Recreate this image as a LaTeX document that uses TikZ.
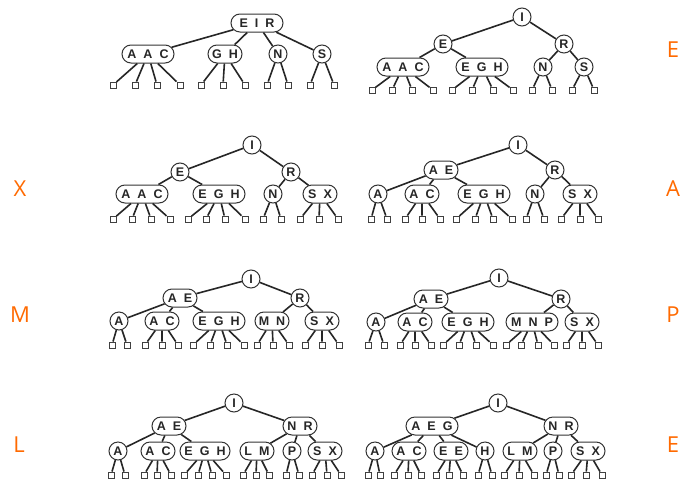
\documentclass[tikz,border=0pt]{standalone}
\usepackage{fontspec}
\setsansfont{Liberation Sans}
\newfontfamily\markfont{Open Sans}
\usepackage{tikz}
\usetikzlibrary{shapes.misc}
\usepackage{xcolor}
\definecolor{mark}{HTML}{FF6A00}

\newcommand\ks{\hskip 7pt}
% leaves under one node: name, y, list of x
\newcommand\leafrow[3]{%
  \foreach \lx [count=\li] in {#3} {%
    \node[leaf] (#1-\li) at (\lx,#2) {};
    \draw[link] (#1) -- (#1-\li);
  }}

\begin{document}
\begin{tikzpicture}[x=1pt,y=-1pt,
  key/.style={draw=black!80, line width=1pt, fill=white, rounded rectangle,
    minimum height=18, inner sep=2pt, text=black!85,
    font=\fontsize{12.5}{12.5}\selectfont\sffamily\bfseries},
  k1/.style={key, minimum width=19},
  k2/.style={key, minimum width=38},
  k3/.style={key, minimum width=56},
  leaf/.style={draw=black!75, line width=0.9pt, rectangle, minimum size=6, inner sep=0pt},
  link/.style={draw=black!85, line width=1.6pt},
  lbl/.style={text=mark, font=\fontsize{22}{22}\selectfont\markfont}]
\useasboundingbox[fill=white] (0,0) rectangle (684,479);

% tree 1
\node[k3] (t1eir) at (257,23) {E\ks I\ks R};
\node[k3] (t1aac) at (148,54) {A\ks A\ks C};
\node[k2] (t1gh) at (225,54) {G\ks H};
\node[k1] (t1n) at (278,54) {N};
\node[k1] (t1s) at (322,54) {S};
\draw[link] (t1eir) -- (t1aac);
\draw[link] (t1eir) -- (t1gh);
\draw[link] (t1eir) -- (t1n);
\draw[link] (t1eir) -- (t1s);
\leafrow{t1aac}{85}{113,135,157,180}
\leafrow{t1gh}{85}{201,223,245}
\leafrow{t1n}{85}{267,288}
\leafrow{t1s}{85}{310,334}

% tree 2
\node[k1] (t2i) at (522,17) {I};
\node[k1] (t2e) at (443,44) {E};
\node[k1] (t2r) at (564,44) {R};
\node[k3] (t2aac) at (403,67) {A\ks A\ks C};
\node[k3] (t2egh) at (482,67) {E\ks G\ks H};
\node[k1] (t2n) at (543,67) {N};
\node[k1] (t2s) at (584,67) {S};
\draw[link] (t2i) -- (t2e);
\draw[link] (t2i) -- (t2r);
\draw[link] (t2e) -- (t2aac);
\draw[link] (t2e) -- (t2egh);
\draw[link] (t2r) -- (t2n);
\draw[link] (t2r) -- (t2s);
\leafrow{t2aac}{90}{372,392,412,433}
\leafrow{t2egh}{90}{452,472,493,513}
\leafrow{t2n}{90}{532,552}
\leafrow{t2s}{90}{572,594}

% tree 3
\node[k1] (t3i) at (252,145) {I};
\node[k1] (t3e) at (180,172) {E};
\node[k1] (t3r) at (291,172) {R};
\node[k3] (t3aac) at (142,194) {A\ks A\ks C};
\node[k3] (t3egh) at (219,194) {E\ks G\ks H};
\node[k1] (t3n) at (273,194) {N};
\node[k2] (t3sx) at (320,194) {S\ks X};
\draw[link] (t3i) -- (t3e);
\draw[link] (t3i) -- (t3r);
\draw[link] (t3e) -- (t3aac);
\draw[link] (t3e) -- (t3egh);
\draw[link] (t3r) -- (t3n);
\draw[link] (t3r) -- (t3sx);
\leafrow{t3aac}{219}{113,132,151,170}
\leafrow{t3egh}{219}{188,206,225,245}
\leafrow{t3n}{219}{263,281}
\leafrow{t3sx}{219}{300,319,338}

% tree 4
\node[k1] (t4i) at (518,145) {I};
\node[k2] (t4ae) at (441,170) {A\ks E};
\node[k1] (t4r) at (555,170) {R};
\node[k1] (t4a) at (378,194) {A};
\node[k2] (t4ac) at (422,194) {A\ks C};
\node[k3] (t4egh) at (484,194) {E\ks G\ks H};
\node[k1] (t4n) at (535,194) {N};
\node[k2] (t4sx) at (580,194) {S\ks X};
\draw[link] (t4i) -- (t4ae);
\draw[link] (t4i) -- (t4r);
\draw[link] (t4ae) -- (t4a);
\draw[link] (t4ae) -- (t4ac);
\draw[link] (t4ae) -- (t4egh);
\draw[link] (t4r) -- (t4n);
\draw[link] (t4r) -- (t4sx);
\leafrow{t4a}{219}{371,387}
\leafrow{t4ac}{219}{405,422,440}
\leafrow{t4egh}{219}{456,475,493,512}
\leafrow{t4n}{219}{526,544}
\leafrow{t4sx}{219}{561,580,598}

% tree 5
\node[k1] (t5i) at (251,279) {I};
\node[k2] (t5ae) at (180,298) {A\ks E};
\node[k1] (t5r) at (300,298) {R};
\node[k1] (t5a) at (119,321) {A};
\node[k2] (t5ac) at (162,321) {A\ks C};
\node[k3] (t5egh) at (219,321) {E\ks G\ks H};
\node[k2] (t5mn) at (272,321) {M\ks N};
\node[k2] (t5sx) at (322,321) {S\ks X};
\draw[link] (t5i) -- (t5ae);
\draw[link] (t5i) -- (t5r);
\draw[link] (t5ae) -- (t5a);
\draw[link] (t5ae) -- (t5ac);
\draw[link] (t5ae) -- (t5egh);
\draw[link] (t5r) -- (t5mn);
\draw[link] (t5r) -- (t5sx);
\leafrow{t5a}{345}{112,127}
\leafrow{t5ac}{345}{145,162,178}
\leafrow{t5egh}{345}{193,210,227,244}
\leafrow{t5mn}{345}{257,273,289}
\leafrow{t5sx}{345}{305,322,339}

% tree 6
\node[k1] (t6i) at (499,278) {I};
\node[k2] (t6ae) at (431,299) {A\ks E};
\node[k1] (t6r) at (561,299) {R};
\node[k1] (t6a) at (376,322) {A};
\node[k2] (t6ac) at (415,322) {A\ks C};
\node[k3] (t6egh) at (468,322) {E\ks G\ks H};
\node[k3] (t6mnp) at (532,322) {M\ks N\ks P};
\node[k2] (t6sx) at (582,322) {S\ks X};
\draw[link] (t6i) -- (t6ae);
\draw[link] (t6i) -- (t6r);
\draw[link] (t6ae) -- (t6a);
\draw[link] (t6ae) -- (t6ac);
\draw[link] (t6ae) -- (t6egh);
\draw[link] (t6r) -- (t6mnp);
\draw[link] (t6r) -- (t6sx);
\leafrow{t6a}{345}{368,384}
\leafrow{t6ac}{345}{400,415,431}
\leafrow{t6egh}{345}{443,459,476,493}
\leafrow{t6mnp}{345}{506,521,538,554}
\leafrow{t6sx}{345}{566,582,598}

% tree 7
\node[k1] (t7i) at (234,403) {I};
\node[k2] (t7ae) at (169,426) {A\ks E};
\node[k2] (t7nr) at (300,426) {N\ks R};
\node[k1] (t7a) at (118,451) {A};
\node[k2] (t7ac) at (158,451) {A\ks C};
\node[k3, minimum width=54] (t7egh) at (205,451) {E\ks G\ks H};
\node[k2] (t7lm) at (257,451) {L\ks M};
\node[k1] (t7p) at (292,451) {P};
\node[k2] (t7sx) at (325,451) {S\ks X};
\draw[link] (t7i) -- (t7ae);
\draw[link] (t7i) -- (t7nr);
\draw[link] (t7ae) -- (t7a);
\draw[link] (t7ae) -- (t7ac);
\draw[link] (t7ae) -- (t7egh);
\draw[link] (t7nr) -- (t7lm);
\draw[link] (t7nr) -- (t7p);
\draw[link] (t7nr) -- (t7sx);
\leafrow{t7a}{475}{111,125}
\leafrow{t7ac}{475}{144,157,171}
\leafrow{t7egh}{475}{184,198,212,226}
\leafrow{t7lm}{475}{243,256,269}
\leafrow{t7p}{475}{286,299}
\leafrow{t7sx}{475}{312,327,341}

% tree 8
\node[k1] (t8i) at (498,403) {I};
\node[k3] (t8aeg) at (432,426) {A\ks E\ks G};
\node[k2] (t8nr) at (561,426) {N\ks R};
\node[k1] (t8a) at (375,451) {A};
\node[k2] (t8ac) at (409,451) {A\ks C};
\node[k2] (t8ee) at (451,451) {E\ks E};
\node[k1] (t8h) at (485,451) {H};
\node[k2] (t8lm) at (520,451) {L\ks M};
\node[k1] (t8p) at (553,451) {P};
\node[k2] (t8sx) at (588,451) {S\ks X};
\draw[link] (t8i) -- (t8aeg);
\draw[link] (t8i) -- (t8nr);
\draw[link] (t8aeg) -- (t8a);
\draw[link] (t8aeg) -- (t8ac);
\draw[link] (t8aeg) -- (t8ee);
\draw[link] (t8aeg) -- (t8h);
\draw[link] (t8nr) -- (t8lm);
\draw[link] (t8nr) -- (t8p);
\draw[link] (t8nr) -- (t8sx);
\leafrow{t8a}{475}{368,380}
\leafrow{t8ac}{475}{394,408,421}
\leafrow{t8ee}{475}{436,449,463}
\leafrow{t8h}{475}{478,492}
\leafrow{t8lm}{475}{504,519,534}
\leafrow{t8p}{475}{546,559}
\leafrow{t8sx}{475}{571,586,602}

% inserted keys
\node[lbl] (insE) at (673,50) {E};
\node[lbl] (insX) at (20,189) {X};
\node[lbl] (insA) at (673,189) {A};
\node[lbl] (insM) at (20,315) {M};
\node[lbl] (insP) at (673,315) {P};
\node[lbl] (insL) at (19,445) {L};
\node[lbl] (insE2) at (673,445) {E};
\end{tikzpicture}
\end{document}
